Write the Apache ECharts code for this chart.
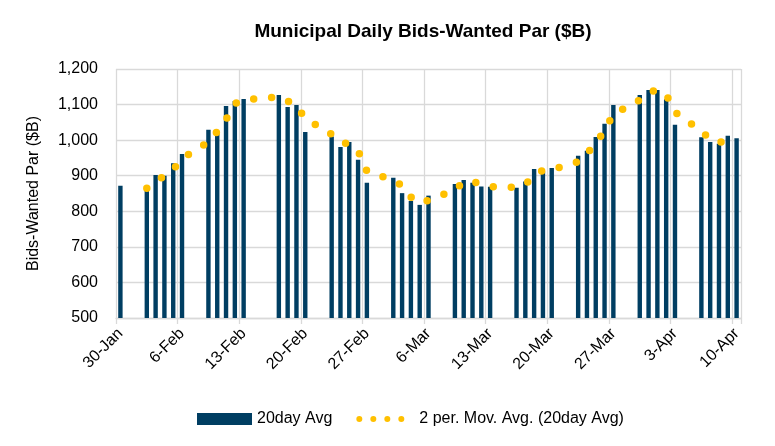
<!DOCTYPE html>
<html>
<head>
<meta charset="utf-8">
<script src="https://cdn.jsdelivr.net/npm/echarts@6/dist/echarts.min.js"></script>
<style>
html,body{margin:0;padding:0;background:#fff;}
#c{width:775px;height:446px;}
</style>
</head>
<body>
<div id="c"></div>
<script>
// Trading dates (business days) and 20-day average bids-wanted par, $B
const tradeDates = [
  '2026-01-30',
  '2026-02-02','2026-02-03','2026-02-04','2026-02-05','2026-02-06',
  '2026-02-09','2026-02-10','2026-02-11','2026-02-12','2026-02-13',
  '2026-02-17','2026-02-18','2026-02-19','2026-02-20',
  '2026-02-23','2026-02-24','2026-02-25','2026-02-26','2026-02-27',
  '2026-03-02','2026-03-03','2026-03-04','2026-03-05','2026-03-06',
  '2026-03-09','2026-03-10','2026-03-11','2026-03-12','2026-03-13',
  '2026-03-16','2026-03-17','2026-03-18','2026-03-19','2026-03-20',
  '2026-03-23','2026-03-24','2026-03-25','2026-03-26','2026-03-27',
  '2026-03-30','2026-03-31','2026-04-01','2026-04-02','2026-04-03',
  '2026-04-06','2026-04-07','2026-04-08','2026-04-09','2026-04-10'
];
const avg20 = [
  872,
  858, 902, 900, 935, 961,
  1029, 1020, 1096, 1110, 1116,
  1127, 1093, 1099, 1023,
  1010, 981, 995, 945, 880,
  894, 851, 829, 818, 844,
  877, 888, 880, 870, 869,
  866, 884, 919, 912, 922,
  956, 970, 1009, 1046, 1099,
  1127, 1141, 1141, 1115, 1043,
  1008, 995, 990, 1012, 1005
];
const axisStart = '2026-01-30';
const axisEnd = '2026-04-10';
const yTicks = [500, 600, 700, 800, 900, 1000, 1100, 1200];
const barName = '20day Avg';
const maName = '2 per. Mov. Avg. (20day Avg)';

// Build the daily date axis (calendar days)
const MONTHS = ['Jan','Feb','Mar','Apr','May','Jun','Jul','Aug','Sep','Oct','Nov','Dec'];
const days = [];
{
  let d = new Date(axisStart + 'T00:00:00Z');
  const end = new Date(axisEnd + 'T00:00:00Z');
  while (d <= end) {
    days.push(d.toISOString().slice(0, 10));
    d = new Date(d.getTime() + 86400000);
  }
}
const valueByDate = {};
tradeDates.forEach((t, i) => { valueByDate[t] = avg20[i]; });
// 2-period moving average trendline of the bar series
const maByDate = {};
for (let i = 1; i < tradeDates.length; i++) {
  maByDate[tradeDates[i]] = (avg20[i - 1] + avg20[i]) / 2;
}
const barData = days.map(d => (d in valueByDate ? valueByDate[d] : null));
const maData = days.map(d => (d in maByDate ? maByDate[d] : null));

function fmtDay(s) {
  const d = new Date(s + 'T00:00:00Z');
  return d.getUTCDate() + '-' + MONTHS[d.getUTCMonth()];
}

const FONT = 'Liberation Sans, Arial, sans-serif';
const GRID = '#D9D9D9';
const chart = echarts.init(document.getElementById('c'), null, {renderer: 'canvas'});
chart.setOption({
  animation: false,
  backgroundColor: '#ffffff',
  title: {
    text: 'Municipal Daily Bids-Wanted Par ($B)',
    left: 418,
    textAlign: 'center',
    top: 17,
    textStyle: {fontFamily: FONT, fontSize: 19, fontWeight: 'bold', color: '#000'}
  },
  legend: {
    left: 197,
    top: 411,
    padding: 0,
    itemWidth: 55,
    itemHeight: 12,
    itemGap: 24,
    textStyle: {fontFamily: FONT, fontSize: 16, color: '#000'},
    data: [
      {name: barName, icon: 'rect'},
      {
        name: maName,
        lineStyle: {type: [0, 14], width: 6, cap: 'round', color: '#FFC000'},
        itemStyle: {opacity: 0}
      }
    ]
  },
  grid: {left: 116, right: 34, top: 69, bottom: 128, containLabel: false},
  xAxis: {
    type: 'category',
    data: days,
    boundaryGap: true,
    axisLine: {show: true, lineStyle: {color: GRID, width: 1.3}},
    axisTick: {show: true, interval: 6, length: 6, lineStyle: {color: GRID, width: 1.3}},
    axisLabel: {
      interval: 6, rotate: 45, margin: 13,
      fontFamily: FONT, fontSize: 16, color: '#000',
      formatter: v => fmtDay(v)
    },
    splitLine: {show: true, interval: 6, lineStyle: {color: GRID, width: 1.3}}
  },
  yAxis: {
    type: 'value',
    min: yTicks[0],
    max: yTicks[yTicks.length - 1],
    interval: 100,
    name: 'Bids-Wanted Par ($B)',
    nameLocation: 'middle',
    nameRotate: 90,
    nameGap: 74,
    nameTextStyle: {fontFamily: FONT, fontSize: 16, color: '#000'},
    axisLine: {show: false},
    axisTick: {show: false},
    axisLabel: {
      margin: 18, fontFamily: FONT, fontSize: 16, color: '#000',
      formatter: v => v.toLocaleString('en-US')
    },
    splitLine: {show: true, lineStyle: {color: GRID, width: 1.3}}
  },
  series: [
    {
      name: barName,
      type: 'bar',
      data: barData,
      barWidth: '50%',
      itemStyle: {color: '#003E62'},
      z: 2
    },
    {
      name: maName,
      type: 'line',
      data: maData,
      connectNulls: true,
      symbol: 'none',
      lineStyle: {color: '#FFC000', width: 7.5, type: [0, 18], cap: 'round'},
      itemStyle: {color: '#FFC000'},
      z: 3
    }
  ]
});
</script>
</body>
</html>
